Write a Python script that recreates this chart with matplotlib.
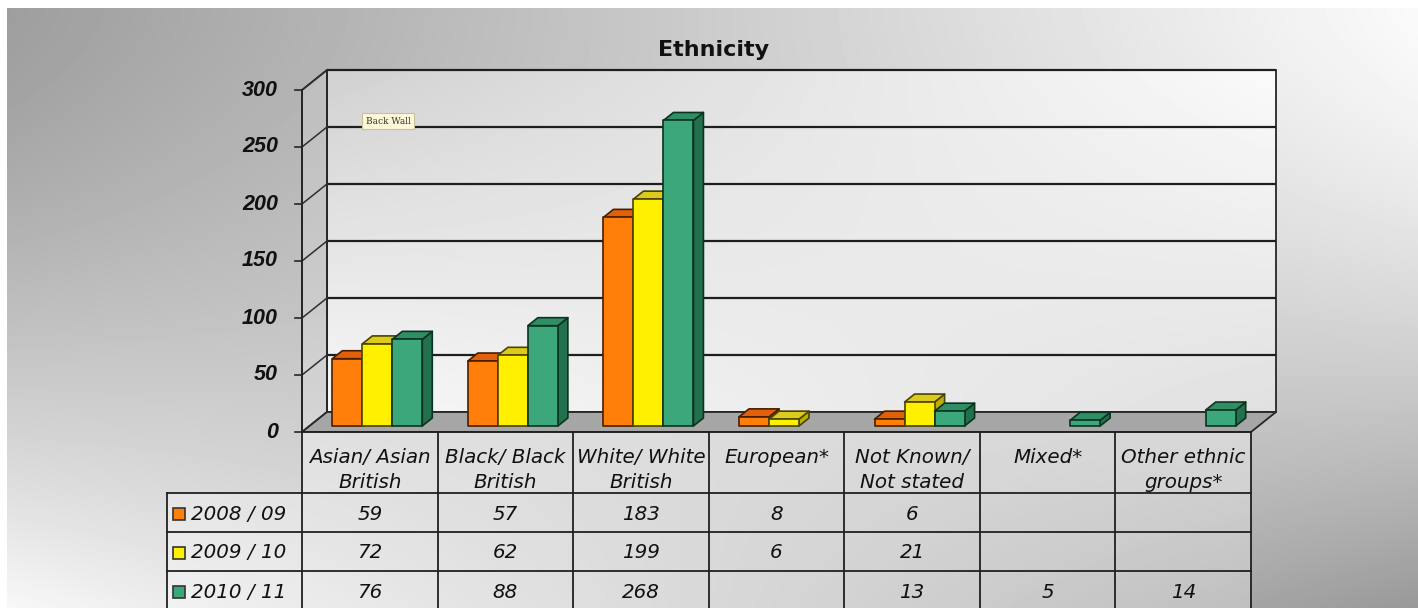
import numpy as np
import matplotlib
matplotlib.use("Agg")
import matplotlib.pyplot as plt
from matplotlib.patches import Polygon, Rectangle
from matplotlib.transforms import Affine2D

# ---------------- data ----------------
title = "Ethnicity"
categories = [["Asian/ Asian", "British"], ["Black/ Black", "British"],
              ["White/ White", "British"], ["European*"],
              ["Not Known/", "Not stated"], ["Mixed*"], ["Other ethnic", "groups*"]]
series_names = ["2008 / 09", "2009 / 10", "2010 / 11"]
values_2008 = [59, 57, 183, 8, 6, None, None]
values_2009 = [72, 62, 199, 6, 21, None, None]
values_2010 = [76, 88, 268, None, 13, 5, 14]
y_ticks = [0, 50, 100, 150, 200, 250, 300]
series = [values_2008, values_2009, values_2010]

front_col = ["#FF7F0A", "#FFF000", "#3CA77A"]
top_col = ["#E0600C", "#DCCB1C", "#2F8E63"]
side_col = ["#B44C04", "#BDAE0E", "#22704D"]
edge_col = ["#4A1E00", "#4A4400", "#0B3320"]

# ---------------- figure ----------------
W, H = 1418, 608
fig = plt.figure(figsize=(W / 100, H / 100), dpi=100)
fig.patch.set_facecolor("white")
PX = Affine2D().scale(1 / W, -1 / H).translate(0, 1) + fig.transFigure

# background gradient
bg = fig.add_axes([0, 0, 1, 1], zorder=0)
bg.set_axis_off()
u = np.linspace(0, 1, 300)
v = np.linspace(0, 1, 150)
U, V = np.meshgrid(u, v)
t = V ** 1.5
left = 0.62 + (0.97 - 0.62) * t
right = 0.98 + (0.60 - 0.98) * t
G = left * (1 - U) + right * U
bg.imshow(G, cmap="gray", vmin=0, vmax=1, extent=[7, W, H, 8],
          aspect="auto", interpolation="bilinear")
bg.set_xlim(0, W)
bg.set_ylim(H, 0)

# chart axes: x in category units, y in values; anchored to pixel layout
x0_px, x7_px = 302, 1251
y0_px, y300_px = 432, 90
ncat = len(categories)
ymax = y_ticks[-1]
cat_px = (x7_px - x0_px) / ncat
val_px = (y0_px - y300_px) / ymax
ax = fig.add_axes([0, 0, 1, 1], zorder=1)
ax.set_axis_off()
ax.patch.set_visible(False)
ax.set_xlim(-x0_px / cat_px, (W - x0_px) / cat_px)
ax.set_ylim(-(H - y0_px) / val_px, y0_px / val_px)

DX = 25 / cat_px
DY = 20 / val_px
line_c = "#262626"

# back wall gradient
wall = np.array([[0.82, 0.98], [0.97, 0.88]])
wu = np.linspace(0, 1, 100)
wv = np.linspace(0, 1, 60)
WU, WV = np.meshgrid(wu, wv)
WG = (wall[0, 0] * (1 - WU) * (1 - WV) + wall[0, 1] * WU * (1 - WV)
      + wall[1, 0] * (1 - WU) * WV + wall[1, 1] * WU * WV)
im = ax.imshow(WG, cmap="gray", vmin=0, vmax=1,
               extent=[DX, ncat + DX, DY, ymax + DY], origin="upper",
               aspect="auto", interpolation="bilinear", zorder=1)
back_poly = Polygon([[DX, DY], [ncat + DX, DY], [ncat + DX, ymax + DY], [DX, ymax + DY]],
                    closed=True, facecolor="none", edgecolor=line_c, lw=1.3, zorder=2)
ax.add_patch(back_poly)
im.set_clip_path(back_poly)

# side wall
ax.add_patch(Polygon([[0, 0], [DX, DY], [DX, ymax + DY], [0, ymax]], closed=True,
                     facecolor=(1, 1, 1, 0.15), edgecolor=line_c, lw=1.3, zorder=2))
# floor
ax.add_patch(Polygon([[0, 0], [ncat, 0], [ncat + DX, DY], [DX, DY]], closed=True,
                     facecolor="#a6a6a6", edgecolor=line_c, lw=1.3, zorder=3))

# gridlines
for g in y_ticks[1:]:
    ax.plot([DX, ncat + DX], [g + DY, g + DY], color="#1e1e1e", lw=1.6, zorder=2.5,
            solid_capstyle="butt")
    ax.plot([0, DX], [g, g + DY], color="#2e2e2e", lw=1.1, zorder=2.5)
for g in y_ticks:
    ax.plot([-7 / cat_px, 0], [g, g], color=line_c, lw=1.2, zorder=3)
    ax.text(-24 / cat_px, g, str(g), ha="right", va="center", fontsize=15.5,
            fontweight="bold", fontstyle="italic", family="Liberation Sans",
            color="#111111", zorder=3)
ax.plot([0, 0], [0, ymax], color=line_c, lw=1.3, zorder=3)

# bars
bar_w = 30 / cat_px
f0, f1 = 0.3, 0.7
for j in range(ncat):
    for i, vals in enumerate(series):
        val = vals[j]
        if val is None:
            continue
        xc = j + 0.5 + (i - 1) * bar_w
        xl, xr = xc - bar_w / 2, xc + bar_w / 2
        a0x, a0y = f0 * DX, f0 * DY
        a1x, a1y = f1 * DX, f1 * DY
        front = [[xl + a0x, a0y], [xr + a0x, a0y], [xr + a0x, val + a0y], [xl + a0x, val + a0y]]
        top = [[xl + a0x, val + a0y], [xr + a0x, val + a0y], [xr + a1x, val + a1y], [xl + a1x, val + a1y]]
        side = [[xr + a0x, a0y], [xr + a1x, a1y], [xr + a1x, val + a1y], [xr + a0x, val + a0y]]
        z = 4 + j * 0.1 + i * 0.01
        for pts, fc in ((side, side_col[i]), (top, top_col[i]), (front, front_col[i])):
            ax.add_patch(Polygon(pts, closed=True, facecolor=fc, edgecolor=edge_col[i],
                                 lw=1.2, joinstyle="round", zorder=z))

# title
fig.text(714, 50, title, transform=PX, ha="center", va="center", fontsize=16,
         fontweight="bold", family="DejaVu Sans", color="#111111")

# "Back Wall" tooltip
fig.text(388, 121, "Back Wall", transform=PX, ha="center", va="center", fontsize=6.5,
         family="DejaVu Serif", color="#333322", zorder=5,
         bbox=dict(boxstyle="square,pad=0.35", facecolor="#fbf7d8", edgecolor="#c8c09a", lw=0.8))

# ---------------- data table ----------------
tab_left = 167
row_tops = [493, 532, 571, 610]
header_top = y0_px
col_x = [x0_px + cat_px * k for k in range(ncat + 1)]

fig.patches.append(Rectangle((x0_px, header_top), x7_px - x0_px, row_tops[0] - header_top,
                             transform=PX, facecolor=(1, 1, 1, 0.35), edgecolor="none", zorder=1))
fig.patches.append(Rectangle((tab_left, row_tops[0]), x7_px - tab_left, row_tops[-1] - row_tops[0],
                             transform=PX, facecolor=(1, 1, 1, 0.3), edgecolor="none", zorder=1))

tl = dict(transform=PX, color="#202020", lw=1.3, zorder=6)
for cx in col_x:
    fig.lines.append(plt.Line2D([cx, cx], [header_top, H + 2], **tl))
fig.lines.append(plt.Line2D([tab_left, tab_left], [row_tops[0], H + 2], **tl))
fig.lines.append(plt.Line2D([x0_px, x7_px], [header_top, header_top], **tl))
for ry in row_tops[:-1]:
    fig.lines.append(plt.Line2D([tab_left, x7_px], [ry, ry], **tl))

txt = dict(transform=PX, fontsize=14.3, fontstyle="italic", family="DejaVu Sans",
           color="#111111", zorder=7)
for k, lines in enumerate(categories):
    cx = (col_x[k] + col_x[k + 1]) / 2
    for li, s in enumerate(lines):
        fig.text(cx, 463 + 24.5 * li, s, ha="center", va="baseline", **txt)

for i, name in enumerate(series_names):
    cy = (row_tops[i] + row_tops[i + 1]) / 2 + 1.5
    fig.patches.append(Rectangle((173, cy - 6.5), 12, 12, transform=PX,
                                 facecolor=front_col[i], edgecolor="#333333", lw=1.2, zorder=7))
    fig.text(191, cy, name, ha="left", va="center", **txt)
    for k, val in enumerate(series[i]):
        if val is None:
            continue
        cx = (col_x[k] + col_x[k + 1]) / 2
        fig.text(cx, cy, str(val), ha="center", va="center", **txt)

fig.savefig("out.png", dpi=100)
